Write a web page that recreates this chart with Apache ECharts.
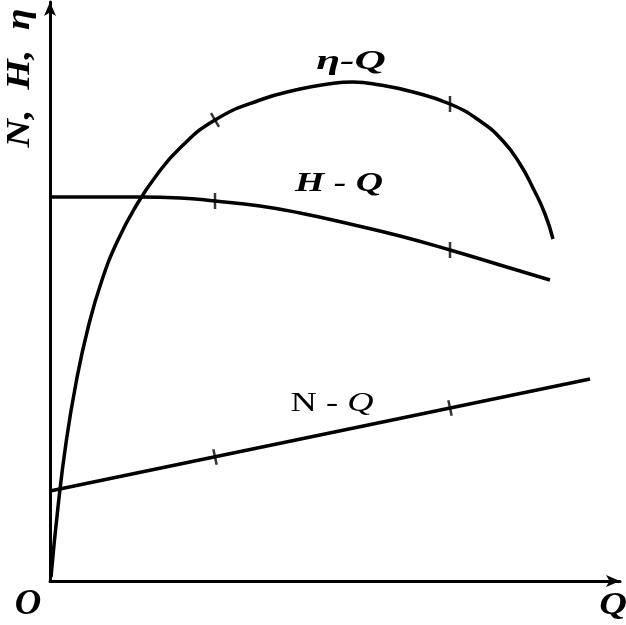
<!DOCTYPE html>
<html><head><meta charset="utf-8">
<script src="https://cdn.jsdelivr.net/npm/echarts@6/dist/echarts.min.js"></script>
<style>html,body{margin:0;padding:0;background:#fff}#c{width:626px;height:625px}</style>
</head><body><div id="c"></div>
<script>
// Flow rate Q (arbitrary units) and curve values (arbitrary units)
const etaQ = [1,8,16,26,38,52,68,86,106,130,165,210,250,278,303,330,363,400,430,453,470,483,495,503];
const etaV = [4,74,138,198,253,301,341,375,405,433,461,481,492,497,499,496,489,477,460,440,417,393,367,342];
const headQ = [0,50,90,130,165,210,250,300,350,400,450,500];
const headV = [384,384,384,383,380,375,368,357,345,331,316,301];
const powerQ = [0,540];
const powerV = [90,202];
// marked operating points on each curve
const tickQ = [165,400];
const etaTickV = [461,477];
const headTickV = [380,331];
const powerTickV = [124,173];

const pairs = (xs, ys) => xs.map((x, i) => [x, ys[i]]);
const font = '"Liberation Serif", "DejaVu Serif", serif';
const lineStyle = {color:'#000', width:3.5};
function ticks(vals, rots){
  return {type:'scatter', symbol:'rect', symbolSize:[2.5,16], silent:true,
    itemStyle:{color:'#000'},
    data: tickQ.map((q,i)=>({value:[q, vals[i]], symbolRotate: rots[i]}))};
}
function label(x, y, text, f, sx){
  return {type:'text', x, y, scaleX:sx, scaleY:1,
    style:{text, font:f, fill:'#000', align:'center', verticalAlign:'middle'}};
}
const chart = echarts.init(document.getElementById('c'), null, {renderer:'canvas'});
chart.setOption({
  animation:false,
  grid:{left:50, right:6, top:2, bottom:44, containLabel:false},
  xAxis:{type:'value', min:0, max:570, axisLine:{show:true, lineStyle:{color:'#000', width:3}, symbol:['none','arrow'], symbolSize:[9,14]},
    axisTick:{show:false}, axisLabel:{show:false}, splitLine:{show:false}},
  yAxis:{type:'value', min:0, max:579, axisLine:{show:true, lineStyle:{color:'#000', width:3}, symbol:['none','arrow'], symbolSize:[9,14]},
    axisTick:{show:false}, axisLabel:{show:false}, splitLine:{show:false}},
  series:[
    {type:'line', name:'η-Q', data:pairs(etaQ, etaV), smooth:0.5, showSymbol:false, lineStyle},
    {type:'line', name:'H-Q', data:pairs(headQ, headV), smooth:0.5, showSymbol:false, lineStyle},
    {type:'line', name:'N-Q', data:pairs(powerQ, powerV), showSymbol:false, lineStyle},
    ticks(etaTickV, [30, 0]),
    ticks(headTickV, [0, 0]),
    ticks(powerTickV, [12, 12])
  ],
  graphic:[
    label(351, 62, 'η-Q', 'italic bold 28px '+font, 1.55),
    label(339, 184, 'H - Q', 'italic bold 28px '+font, 1.35),
    {type:'text', x:332, y:404, scaleX:1.35, style:{rich:{n:{font:'27px '+font, fill:'#000'}, q:{font:'italic 27px '+font, fill:'#000'}}, text:'{n|N - }{q|Q}', align:'center', verticalAlign:'middle'}},
    {type:'text', x:20, y:78, rotation:Math.PI/2, scaleX:1.15, style:{text:'N,  H,  η', font:'italic bold 34px '+font, fill:'#000', align:'center', verticalAlign:'middle'}},
    label(28, 605, 'O', 'italic bold 35px '+font, 1.05),
    label(613, 606, 'Q', 'italic bold 32px '+font, 1.2)
  ]
});
</script></body></html>
